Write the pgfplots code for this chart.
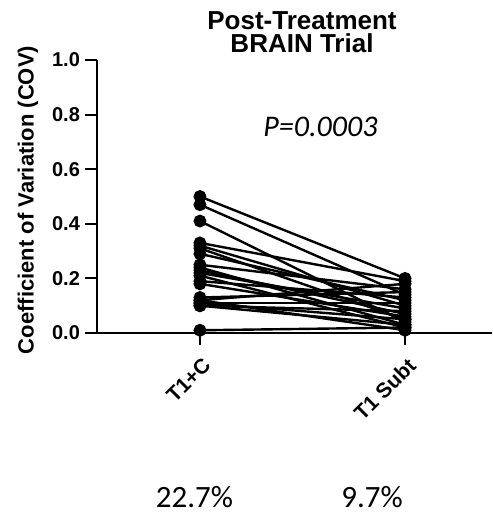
\documentclass[border=0pt]{standalone}
\usepackage{pgfplots}
\pgfplotsset{compat=1.18}
\usepackage{fontspec}
\setmainfont{Liberation Sans}
\newfontfamily\carlito{Carlito}
\pgfplotsset{pair/.style={black, solid, line width=1.2pt, mark=*, mark size=2.6pt, mark options={solid, fill=black, draw=black}}}
\begin{document}
\begin{tikzpicture}[x=1pt,y=1pt]
\useasboundingbox (-48.5pt,-89.5pt) rectangle (197.5pt,166.5pt);
\begin{axis}[
  at={(0,0)}, anchor=south west,
  scale only axis, width=197.5pt, height=136.5pt,
  xmin=-0.502, xmax=1.424, ymin=0, ymax=1,
  axis x line*=bottom, axis y line*=left,
  axis line style={line width=1pt},
  tick style={line width=1pt, black},
  tick align=outside, major tick length=6pt,
  ytick={0,0.2,0.4,0.6,0.8,1.0},
  /pgf/number format/assume math mode=true,
  y tick label style={font=\fontsize{10}{11}\selectfont\bfseries, xshift=1pt},
  yticklabel={\pgfmathprintnumber[fixed, fixed zerofill, precision=1]{\tick}},
  xtick={0,1}, xticklabels={T1+C, T1 Subt},
  x tick label style={font=\fontsize{10.5}{11}\selectfont\bfseries, rotate=45, anchor=north east, xshift=0pt, yshift=-1pt},
  clip=false,
]
\addplot[pair] coordinates {(0,0.50) (1,0.20)};
\addplot[pair] coordinates {(0,0.47) (1,0.14)};
\addplot[pair] coordinates {(0,0.41) (1,0.04)};
\addplot[pair] coordinates {(0,0.33) (1,0.19)};
\addplot[pair] coordinates {(0,0.32) (1,0.10)};
\addplot[pair] coordinates {(0,0.31) (1,0.05)};
\addplot[pair] coordinates {(0,0.29) (1,0.12)};
\addplot[pair] coordinates {(0,0.25) (1,0.16)};
\addplot[pair] coordinates {(0,0.24) (1,0.03)};
\addplot[pair] coordinates {(0,0.23) (1,0.07)};
\addplot[pair] coordinates {(0,0.22) (1,0.09)};
\addplot[pair] coordinates {(0,0.21) (1,0.02)};
\addplot[pair] coordinates {(0,0.19) (1,0.13)};
\addplot[pair] coordinates {(0,0.18) (1,0.06)};
\addplot[pair] coordinates {(0,0.13) (1,0.15)};
\addplot[pair] coordinates {(0,0.12) (1,0.18)};
\addplot[pair] coordinates {(0,0.12) (1,0.01)};
\addplot[pair] coordinates {(0,0.11) (1,0.11)};
\addplot[pair] coordinates {(0,0.11) (1,0.05)};
\addplot[pair] coordinates {(0,0.10) (1,0.08)};
\addplot[pair] coordinates {(0,0.10) (1,0.03)};
\addplot[pair] coordinates {(0,0.01) (1,0.02)};
\end{axis}
\node[rotate=90, font=\fontsize{11}{12}\selectfont\bfseries] at (-34.5pt,66.5pt) {Coefficient of Variation (COV)};
\node[anchor=base, font=\fontsize{13}{14}\selectfont\bfseries] at (102.5pt,151.5pt) {Post-Treatment};
\node[anchor=base, font=\fontsize{13}{14}\selectfont\bfseries] at (102.5pt,140pt) {BRAIN Trial};
\node[anchor=base west, inner sep=0pt, font=\carlito\fontsize{15}{16}\selectfont\itshape] at (83pt,98pt) {P=0.0003};
\node[anchor=base, inner sep=0pt, font=\carlito\fontsize{15.5}{16}\selectfont] at (48.75pt,-87pt) {22.7\%};
\node[anchor=base, inner sep=0pt, font=\carlito\fontsize{15.5}{16}\selectfont] at (137.5pt,-87pt) {9.7\%};
\end{tikzpicture}
\end{document}
